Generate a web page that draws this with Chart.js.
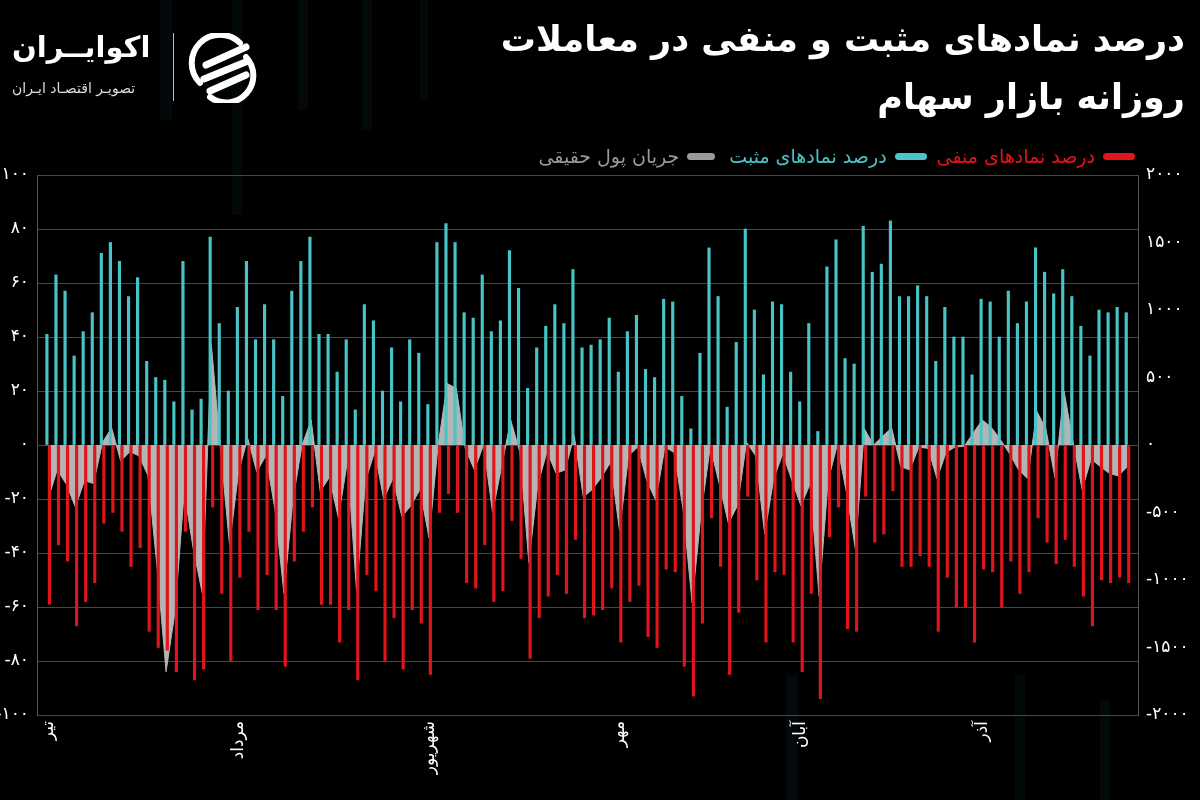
<!DOCTYPE html>
<html lang="fa">
<head>
<meta charset="utf-8">
<script src="https://cdn.jsdelivr.net/npm/chart.js@4.4.0/dist/chart.umd.min.js"></script>
<style>
html,body{margin:0;padding:0;background:#000;width:1200px;height:800px;overflow:hidden;}
#wrap{position:relative;width:1200px;height:800px;background:#000;overflow:hidden;}
#chart{position:absolute;left:0;top:0;}
.title{position:absolute;right:15px;top:10px;color:#fff;font-family:"DejaVu Sans",sans-serif;font-weight:bold;font-size:35px;line-height:58px;text-align:right;direction:rtl;white-space:nowrap;}
.brand{position:absolute;left:12px;top:30px;color:#fff;font-family:"DejaVu Sans",sans-serif;font-weight:bold;font-size:29px;direction:rtl;white-space:nowrap;}
.brandsub{position:absolute;left:12px;top:80px;color:#ddd;font-family:"DejaVu Sans",sans-serif;font-size:14px;direction:rtl;white-space:nowrap;}
.divider{position:absolute;left:173px;top:33px;width:1px;height:68px;background:#bbb;}
.logo{position:absolute;left:188px;top:33px;}
.legend{position:absolute;right:65px;top:145px;display:flex;flex-direction:row;direction:rtl;align-items:center;font-family:"DejaVu Sans",sans-serif;font-size:19px;white-space:nowrap;}
.legend .item{display:flex;align-items:center;}
.legend .pill{display:inline-block;width:32px;height:7px;border-radius:4px;margin-left:8px;}
.stripe{position:absolute;background:rgba(18,50,60,0.18);}
</style>
</head>
<body>
<div id="wrap">
  <div class="stripe" style="left:160px;top:0;width:12px;height:120px"></div>
  <div class="stripe" style="left:232px;top:0;width:10px;height:215px"></div>
  <div class="stripe" style="left:298px;top:0;width:10px;height:110px"></div>
  <div class="stripe" style="left:362px;top:0;width:10px;height:130px"></div>
  <div class="stripe" style="left:420px;top:0;width:8px;height:100px"></div>
  <div class="stripe" style="left:786px;top:675px;width:12px;height:125px"></div>
  <div class="stripe" style="left:1015px;top:675px;width:10px;height:125px"></div>
  <div class="stripe" style="left:1100px;top:700px;width:10px;height:100px"></div>
  <canvas id="chart" width="1200" height="800"></canvas>
  <div class="brand">اکوایــران</div>
  <div class="brandsub">تصویـر اقتصـاد ایـران</div>
  <div class="divider"></div>
  <svg class="logo" width="70" height="70" viewBox="0 0 70 70">
    <path d="M12 50 A27 27 0 0 1 52 10" stroke="#fff" stroke-width="6" fill="none" stroke-linecap="round"/>
    <path d="M18 32 L58 14" stroke="#fff" stroke-width="7" stroke-linecap="round"/>
    <path d="M16 46 L60 28" stroke="#fff" stroke-width="7" stroke-linecap="round"/>
    <path d="M22 58 L58 42" stroke="#fff" stroke-width="7" stroke-linecap="round"/>
    <path d="M58 24 A27 27 0 0 1 22 64" stroke="#fff" stroke-width="6" fill="none" stroke-linecap="round"/>
  </svg>
  <div class="title">درصد نمادهای مثبت و منفی در معاملات<br>روزانه بازار سهام</div>
  <div class="legend">
    <div class="item"><span class="pill" style="background:#e3141b"></span><span style="color:#e3141b">درصد نمادهای منفی</span></div>
    <div class="item" style="margin-right:10px"><span class="pill" style="background:#4cc4c8"></span><span style="color:#4cc4c8">درصد نمادهای مثبت</span></div>
    <div class="item" style="margin-right:14px"><span class="pill" style="background:#9a9a9a;width:28px"></span><span style="color:#9a9a9a">جریان پول حقیقی</span></div>
  </div>
</div>
<script>
// ---- data ----
const monthLabels = ['تیر', 'مرداد', 'شهریور', 'مهر', 'آبان', 'آذر'];
const monthStartIndex = [0, 21, 42, 63, 83, 103];

const positive = [
  41, 63, 57, 33, 42, 49, 71, 75, 68, 55, 62, 31, 25, 24, 16, 68, 13, 17, 77, 45,
  20, 51, 68, 39, 52, 39, 18, 57, 68, 77, 41, 41, 27, 39, 13, 52, 46, 20, 36, 16,
  39, 34, 15, 75, 82, 75, 49, 47, 63, 42, 46, 72, 58, 21, 36, 44, 52, 45, 65, 36,
  37, 39, 47, 27, 42, 48, 28, 25, 54, 53, 18, 6, 34, 73, 55, 14, 38, 80, 50, 26,
  53, 52, 27, 16, 45, 5, 66, 76, 32, 30, 81, 64, 67, 83, 55, 55, 59, 55, 31, 51,
  40, 40, 26, 54, 53, 40, 57, 45, 53, 73, 64, 56, 65, 55, 44, 33, 50, 49, 51, 49
];

const negative = [
  -59, -37, -43, -67, -58, -51, -29, -25, -32, -45, -38, -69, -75, -76, -84, -32, -87, -83, -23, -55,
  -80, -49, -32, -61, -48, -61, -82, -43, -32, -23, -59, -59, -73, -61, -87, -48, -54, -80, -64, -83,
  -61, -66, -85, -25, -18, -25, -51, -53, -37, -58, -54, -28, -42, -79, -64, -56, -48, -55, -35, -64,
  -63, -61, -53, -73, -58, -52, -71, -75, -46, -47, -82, -93, -66, -27, -45, -85, -62, -19, -50, -73,
  -47, -48, -73, -84, -55, -94, -34, -23, -68, -69, -19, -36, -33, -17, -45, -45, -41, -45, -69, -49,
  -60, -60, -73, -46, -47, -60, -43, -55, -47, -27, -36, -44, -35, -45, -56, -67, -50, -51, -49, -51
];

const realMoneyFlow = [
  -400, -185, -290, -460, -265, -285, 20, 127, -120, -50, -80, -225, -900, -1680, -1230, -345, -770, -1100, 740, -30,
  -740, -200, 50, -200, -80, -475, -1100, -400, 0, 185, -345, -240, -540, -120, -1080, -265, -50, -400, -250, -530,
  -450, -330, -690, 0, 455, 420, -30, -185, 0, -500, -160, 185, -50, -870, -290, -50, -210, -185, 70, -385,
  -330, -240, -130, -635, -80, -15, -265, -410, -15, -55, -475, -1170, -500, -15, -290, -580, -450, 20, -80, -660,
  -250, -65, -265, -450, -290, -1120, -265, 0, -345, -770, 120, 0, 65, 127, -160, -185, -15, -25, -250, -55,
  -15, -10, 90, 185, 130, 40, -65, -185, -250, 250, 120, -240, 400, 25, -330, -105, -160, -210, -230, -160
];

const leftAxisRange = [-100, 100, 20];
const rightAxisRange = [-2000, 2000, 500];

// ---- helpers ----
const faDigits = '۰۱۲۳۴۵۶۷۸۹';
const toFa = n => String(n).replace(/\d/g, d => faDigits[d]);

const CYAN = '#48c3c6';
const RED = '#e0141b';
const GRAY = '#b4b4b4';
const GRID = '#474747';
const FONT = '"DejaVu Sans", sans-serif';

const ctx = document.getElementById('chart').getContext('2d');
new Chart(ctx, {
  data: {
    labels: positive.map((_, i) => i),
    datasets: [
      {
        type: 'bar', label: 'درصد نمادهای مثبت', data: positive,
        backgroundColor: CYAN, yAxisID: 'y', order: 1, barThickness: 2.5
      },
      {
        type: 'bar', label: 'درصد نمادهای منفی', data: negative,
        backgroundColor: RED, yAxisID: 'y', order: 1, barThickness: 2.5
      },
      {
        type: 'line', label: 'جریان پول حقیقی', data: realMoneyFlow,
        yAxisID: 'y1', order: 2, fill: 'origin', tension: 0,
        backgroundColor: GRAY, borderColor: GRAY, borderWidth: 1, pointRadius: 0
      }
    ]
  },
  options: {
    responsive: false,
    animation: false,
    layout: { padding: { top: 175, left: 0, right: 0, bottom: 0 } },
    plugins: { legend: { display: false }, tooltip: { enabled: false } },
    scales: {
      x: {
        type: 'linear',
        offset: false,
        min: -1.23, max: 120.16,
        grid: { display: false, drawTicks: false, offset: false },
        border: { display: false },
        afterBuildTicks: s => { s.ticks = monthStartIndex.map(v => ({ value: v })); },
        afterFit: s => { s.height = 85; },
        ticks: {
          autoSkip: false, minRotation: 90, maxRotation: 90, padding: 6,
          color: '#ffffff', font: { family: FONT, size: 17 },
          callback: v => { const k = monthStartIndex.indexOf(v); return k >= 0 ? monthLabels[k] : ''; }
        }
      },
      y: {
        position: 'left',
        min: leftAxisRange[0], max: leftAxisRange[1],
        afterFit: s => { s.width = 37; },
        grid: { color: GRID, lineWidth: 1, drawTicks: false },
        border: { color: '#555', width: 1 },
        ticks: {
          stepSize: leftAxisRange[2], padding: 8, color: '#ffffff',
          font: { family: FONT, size: 17 },
          callback: v => toFa(v)
        }
      },
      y1: {
        position: 'right',
        min: rightAxisRange[0], max: rightAxisRange[1],
        afterFit: s => { s.width = 62; },
        grid: { drawOnChartArea: false, drawTicks: false },
        border: { color: '#555', width: 1 },
        ticks: {
          stepSize: rightAxisRange[2], padding: 8, color: '#ffffff',
          font: { family: FONT, size: 17 },
          callback: v => toFa(v)
        }
      }
    }
  }
});
</script>
</body>
</html>
